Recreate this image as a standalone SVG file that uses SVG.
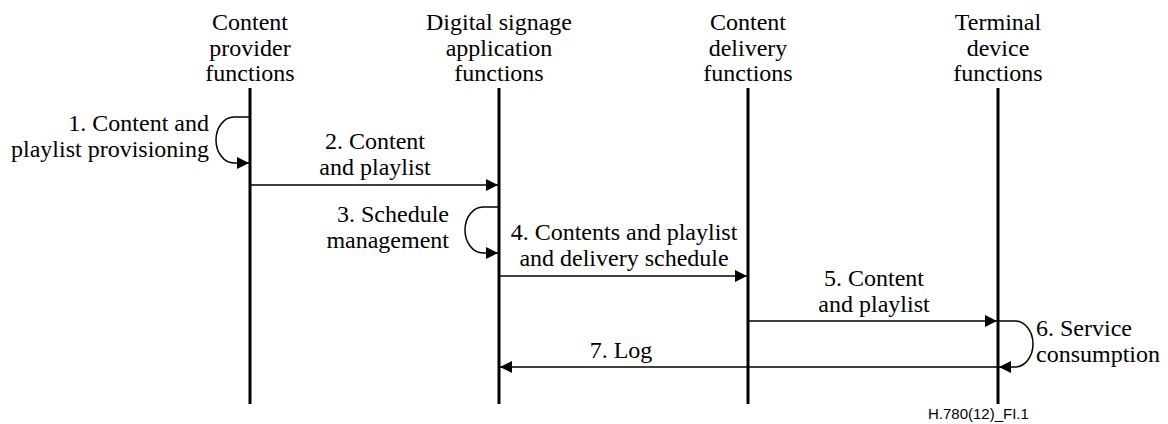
<svg xmlns="http://www.w3.org/2000/svg" width="1168" height="424" viewBox="0 0 1168 424">
  <style>
    .t { font-family: "Liberation Serif", "Times New Roman", Times, "DejaVu Serif", serif; font-size: 24px; fill: #000; }
    .mid { text-anchor: middle; }
    .end { text-anchor: end; }
    .life { stroke: #000; stroke-width: 3; fill: none; }
    .msg { stroke: #000; stroke-width: 1.5; fill: none; marker-end: url(#head); }
  </style>
  <defs>
    <marker id="head" viewBox="0 0 12 12" refX="12" refY="6" markerWidth="12" markerHeight="12" markerUnits="userSpaceOnUse" orient="auto">
      <path d="M0,0 L12,6 L0,12 z" fill="#000"/>
    </marker>
  </defs>
  <rect width="1168" height="424" fill="#fff"/>

  <!-- Participants with their lifelines -->
  <g id="content-provider">
    <text class="t mid" x="250" y="30">Content</text>
    <text class="t mid" x="250" y="55.5">provider</text>
    <text class="t mid" x="250" y="81">functions</text>
    <line class="life" x1="250" y1="88" x2="250" y2="404"/>
  </g>
  <g id="digital-signage-app">
    <text class="t mid" x="499" y="30">Digital signage</text>
    <text class="t mid" x="499" y="55.5">application</text>
    <text class="t mid" x="499" y="81">functions</text>
    <line class="life" x1="499" y1="88" x2="499" y2="404"/>
  </g>
  <g id="content-delivery">
    <text class="t mid" x="748" y="30">Content</text>
    <text class="t mid" x="748" y="55.5">delivery</text>
    <text class="t mid" x="748" y="81">functions</text>
    <line class="life" x1="748" y1="88" x2="748" y2="404"/>
  </g>
  <g id="terminal-device">
    <text class="t mid" x="998" y="30">Terminal</text>
    <text class="t mid" x="998" y="55.5">device</text>
    <text class="t mid" x="998" y="81">functions</text>
    <line class="life" x1="998" y1="88" x2="998" y2="404"/>
  </g>

  <!-- Messages -->
  <g id="connectors">
    <path class="msg" d="M249,117 H234 A18,23 0 0 0 234,163 L249,163"/>
    <line class="msg" x1="251" y1="185" x2="498" y2="185"/>
    <path class="msg" d="M498,207 H483 A18,23 0 0 0 483,253 L498,253"/>
    <line class="msg" x1="500" y1="276" x2="747" y2="276"/>
    <line class="msg" x1="749" y1="321" x2="997" y2="321"/>
    <path class="msg" d="M999,321 H1015 A18,23 0 0 1 1015,367 L999,367"/>
    <line class="msg" x1="998" y1="367" x2="500" y2="367"/>
  </g>

  <!-- Message labels -->
  <g id="labels">
    <text class="t end" x="209" y="131">1. Content and</text>
    <text class="t end" x="209" y="157">playlist provisioning</text>
    <text class="t mid" x="375" y="149">2. Content</text>
    <text class="t mid" x="375" y="175">and playlist</text>
    <text class="t end" x="449" y="222">3. Schedule</text>
    <text class="t end" x="449" y="248">management</text>
    <text class="t mid" x="624" y="240">4. Contents and playlist</text>
    <text class="t mid" x="624" y="266">and delivery schedule</text>
    <text class="t mid" x="874" y="286">5. Content</text>
    <text class="t mid" x="874" y="312">and playlist</text>
    <text class="t" x="1036" y="336">6. Service</text>
    <text class="t" x="1036" y="362">consumption</text>
    <text class="t mid" x="621" y="358">7. Log</text>
  </g>

  <text x="928" y="419" font-family="Liberation Sans, Arial, sans-serif" font-size="15">H.780(12)_FI.1</text>
</svg>
